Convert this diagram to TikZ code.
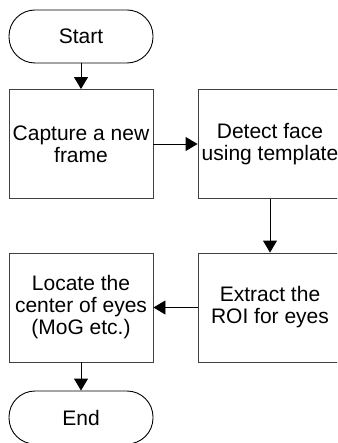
\documentclass[tikz,border=0pt]{standalone}
\usepackage{fontspec}
\setmainfont{Liberation Sans}
\usetikzlibrary{arrows.meta}
\tikzset{
  procbox/.style={draw=black!75, line width=0.9pt, minimum width=144pt, minimum height=109pt, inner sep=0pt, align=center, font=\fontsize{21}{22}\selectfont},
  termbox/.style={draw=black, line width=0.9pt, minimum width=144pt, minimum height=53pt, rounded corners=26pt, inner sep=0pt, align=center, font=\fontsize{21}{22}\selectfont},
  flow/.style={draw=black, line width=0.9pt, -{Triangle[length=12pt,width=14pt]}}
}
\begin{document}
\begin{tikzpicture}[x=1pt,y=-1pt]
\useasboundingbox (0,0) rectangle (337,443);
\clip (0,0) rectangle (337,443);
\node[termbox] (start) at (81,36.5) {Start};
\node[procbox] (capture) at (81,144) {Capture a new\\frame};
\node[procbox] (detect) at (270,144) {Detect face\\using template};
\node[procbox] (extract) at (270,307.5) {Extract the\\ROI for eyes};
\node[procbox] (locate) at (81,307.5) {Locate the\\center of eyes\\(MoG etc.)};
\node[termbox] (end) at (81,417.5) {End};
\draw[flow] (start) -- (capture);
\draw[flow] (capture) -- (detect);
\draw[flow] (detect) -- (extract);
\draw[flow] (extract) -- (locate);
\draw[flow] (locate) -- (end);
\end{tikzpicture}
\end{document}
